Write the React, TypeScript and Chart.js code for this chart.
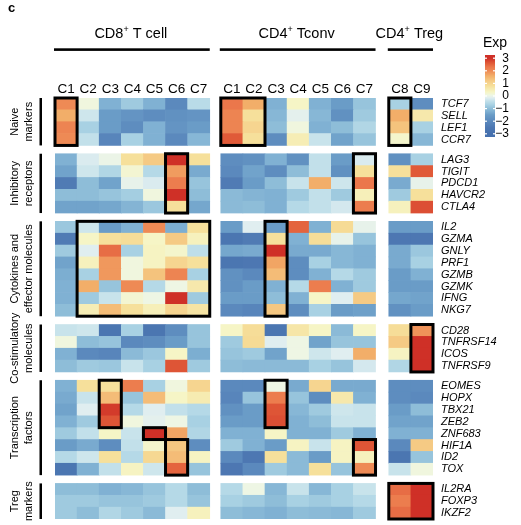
import React, { useEffect, useRef } from "react";
import { Chart, registerables } from "chart.js";

Chart.register(...registerables);

const FONT = '"Liberation Sans", Arial, Helvetica, sans-serif';

// ---- categories ----
const cd8Clusters = ["C1", "C2", "C3", "C4", "C5", "C6", "C7"];
const cd4Clusters = ["C1", "C2", "C3", "C4", "C5", "C6", "C7"];
const tregClusters = ["C8", "C9"];
const cd8DotColors = ["#78c6d6", "#f2b8bd", "#1e9a3c", "#4584b9", "#a0542c", "#d93131", "#e2c97a"];
const cd4DotColors = ["#a6c8de", "#c27fbc", "#ee7c30", "#b89e7b", "#c2a9d2", "#96c96e", "#5fa197"];
const tregDotColors = ["#e02b87", "#7b52a1"];
const panelNames = ["CD8", "CD4", "CD4"];
const panelSuffixes = [" T cell", " Tconv", " Treg"];

const groupLabels = [
  ["Naive", "markers"],
  ["Inhibitory", "receptors"],
  ["Cytokines and", "effector molecules"],
  ["Co-stimulatory", "molecules"],
  ["Transcription", "factors"],
  ["Treg", "markers"],
];

const naiveGenes = ["TCF7", "SELL", "LEF1", "CCR7"];
const inhibitoryGenes = ["LAG3", "TIGIT", "PDCD1", "HAVCR2", "CTLA4"];
const cytokineGenes = ["IL2", "GZMA", "GNLY", "PRF1", "GZMB", "GZMK", "IFNG", "NKG7"];
const costimGenes = ["CD28", "TNFRSF14", "ICOS", "TNFRSF9"];
const tfGenes = ["EOMES", "HOPX", "TBX21", "ZEB2", "ZNF683", "HIF1A", "ID2", "TOX"];
const tregGenes = ["IL2RA", "FOXP3", "IKZF2"];

// ---- values (columns: CD8 C1-C7, CD4 C1-C7, Treg C8-C9) ----
const naiveExp = [
  [2.0, 0.1, -1.2, -0.8, -1.2, -2.0, -0.5, 2.3, 1.6, -1.2, 0.3, -1.2, -1.5, -0.9, -0.7, -1.9],
  [1.6, -0.3, -1.5, -1.7, -1.9, -1.8, -1.7, 2.1, 0.8, -1.1, -0.1, -1.1, -1.8, -0.8, 1.6, 0.6],
  [2.1, -0.7, -1.5, -1.9, -1.2, -1.7, -1.5, 2.1, 1.0, -1.0, 0.1, -1.2, -1.0, -0.6, 1.3, -0.7],
  [2.0, -0.4, -2.1, -0.7, -1.2, -2.0, -1.1, 2.6, 0.8, -1.9, 0.5, -0.35, -1.4, -0.9, 0.25, -1.1],
];
const inhibitoryExp = [
  [-1.2, -0.2, 0.0, 0.8, 1.2, 3.0, 0.8, -1.9, -1.8, -1.2, -1.8, -0.4, -1.5, -0.2, -1.8, -0.7],
  [-1.4, -0.3, -0.6, 0.2, -0.55, 1.8, -1.3, -2.0, -1.4, -1.9, -1.0, -0.4, -1.8, 0.8, 0.8, 2.6],
  [-2.4, -1.0, -1.4, -0.05, -0.2, 2.2, -0.9, -2.4, -1.5, -1.0, -0.35, 1.6, -0.3, 2.3, -1.3, -0.05],
  [-1.0, -1.0, -0.9, -0.75, 0.1, 3.0, -1.0, -1.05, -1.15, -1.2, -0.8, -0.4, -0.8, 0.45, -0.8, 0.8],
  [-1.4, -1.4, -1.35, -1.15, -0.85, 0.8, -1.35, -1.05, -1.0, -1.2, -0.55, -0.4, -0.25, 2.2, 0.4, 2.7],
];
const cytokineExp = [
  [-0.85, -0.3, -1.5, -1.2, 2.0, -1.25, 0.8, -1.5, -0.15, -1.5, 2.5, -1.2, 0.9, -0.05, -1.5, -1.5],
  [-2.4, 0.3, 0.8, 0.85, 0.3, 1.2, 0.4, -2.6, -2.4, 0.8, -1.2, 0.85, -0.05, -0.9, -2.5, -2.5],
  [-0.8, -0.15, 2.4, -0.7, 0.35, 0.25, -0.45, -1.35, -1.3, 3.0, -1.3, -1.3, -1.1, -1.2, -1.3, -0.85],
  [-1.4, 0.4, 1.85, 0.1, 0.35, 1.0, 0.8, -2.6, -2.5, 1.7, -1.9, -0.7, -1.1, -1.2, -1.3, -0.7],
  [-1.25, -0.7, 1.85, 0.1, 1.3, 2.1, -0.7, -1.8, -2.0, 1.4, -1.9, -1.2, -0.55, -0.8, -1.5, -1.2],
  [-1.2, 1.6, -0.9, 2.0, -0.55, 0.05, 0.6, -1.8, -1.5, -1.2, -0.55, 2.2, -1.2, -0.8, -1.5, -1.5],
  [-1.2, -0.8, -0.35, 0.2, 0.05, 3.0, -0.8, -1.5, -1.5, -1.0, -1.2, 0.3, -0.15, 1.2, -1.35, -1.4],
  [-1.0, 0.5, 1.4, 0.8, 0.45, 1.0, 0.7, -2.0, -2.1, 1.25, -1.9, -0.7, -1.5, -1.45, -1.8, -1.5],
];
const costimExp = [
  [-0.35, -0.3, -2.6, -0.7, -2.6, -1.9, -0.9, 0.3, 0.85, -2.6, 0.65, 0.3, -1.05, 0.3, 0.85, 1.9],
  [0.1, -1.0, -0.9, -2.0, -1.9, -1.5, -0.9, -0.8, 0.9, -0.15, 0.05, -1.4, -0.9, -0.9, 1.2, 3.0],
  [-1.2, -2.0, -2.1, -1.05, -0.85, 0.3, -1.25, -0.9, -0.8, -1.4, 0.05, -0.3, -0.15, 1.6, 0.35, 3.0],
  [-1.0, -0.8, -0.85, -0.35, -0.7, 2.65, -0.8, -1.0, -1.05, -1.05, -1.05, -0.7, -0.9, -0.25, -0.6, 3.0],
];
const tfExp = [
  [-1.2, 0.8, 0.8, 2.2, -0.7, 0.1, 1.0, -2.0, -2.0, 0.05, -1.3, 1.0, -1.3, -1.3, -1.9, -1.9],
  [-1.3, -0.35, 1.4, -0.9, 1.4, 0.3, 0.55, -2.1, -0.9, 2.2, -0.9, -1.9, 0.6, -1.2, -1.9, -2.0],
  [-1.4, -0.15, 2.9, -0.55, -0.15, -0.4, -0.55, -1.8, -1.5, 2.65, -1.1, -0.8, -0.3, -0.35, -1.5, -1.0],
  [-1.2, -0.8, 2.65, 0.1, -0.1, 0.05, -0.7, -1.5, -1.5, 2.7, -1.2, -1.0, -0.35, -0.35, -1.4, -1.4],
  [-0.8, -0.4, 0.3, -0.35, 3.0, 1.7, -0.6, -1.2, -1.2, 0.3, -1.2, -1.2, -0.8, -1.2, -1.2, -1.2],
  [-1.5, -1.3, -1.9, -0.4, 0.25, 1.25, -1.9, -0.8, -1.2, -1.5, 0.35, -0.35, 0.35, 2.65, -2.0, 1.2],
  [-0.55, -0.3, 0.8, -0.55, 0.95, 1.4, 0.35, -2.0, -2.5, 0.8, -1.05, -1.5, 0.35, 0.4, -2.6, -0.9],
  [-2.6, -1.2, -0.4, 0.35, -0.3, 2.5, -0.9, -2.5, -2.0, -0.8, -1.05, 0.8, -0.9, 2.0, -0.35, 0.1],
];
const tregMarkerExp = [
  [-1.0, -1.0, -1.2, -1.1, -0.9, -0.55, -1.0, -0.55, 0.05, -1.1, -0.35, -1.1, -0.7, -0.35, 2.4, 3.0],
  [-0.8, -0.8, -0.9, -0.9, -0.8, -0.55, -0.9, -0.7, -0.8, -1.0, -0.7, -0.8, -0.7, -0.55, 2.2, 3.0],
  [-0.8, -1.0, -0.6, -0.8, -1.05, -0.15, 0.4, -1.0, -1.1, -1.2, -1.0, -1.05, -1.1, -0.8, 2.4, 3.0],
];

// highlighted blocks: [group, firstCol, lastCol, firstRow, lastRow]
const highlightBoxes = [
  [0, 0, 0, 0, 3], [0, 7, 8, 0, 3], [0, 14, 14, 0, 3],
  [1, 5, 5, 0, 4], [1, 13, 13, 0, 4],
  [2, 1, 6, 0, 7], [2, 9, 9, 0, 7],
  [3, 15, 15, 0, 3],
  [4, 2, 2, 0, 3], [4, 4, 4, 4, 4], [4, 5, 5, 5, 7], [4, 9, 9, 0, 3], [4, 13, 13, 5, 7],
  [5, 14, 15, 0, 2],
];

const legendTicks = [3, 2, 1, 0, -1, -2, -3];

// ---- colour scale ----
const colorStops: [number, string][] = [
  [-3, "#4570ae"], [-2.5, "#4d77b2"], [-2, "#5b89bd"], [-1.5, "#6a9cc7"], [-1.2, "#80b1d3"],
  [-1, "#8ebdd8"], [-0.7, "#a8d1e3"], [-0.4, "#c2e0ea"], [-0.15, "#e0eef0"], [0.05, "#eef6e4"],
  [0.3, "#f6f5c6"], [0.8, "#f6e09b"], [1.2, "#f5ca84"], [1.6, "#f2ae69"], [2.0, "#ee8a55"],
  [2.3, "#eb774b"], [2.6, "#e05a38"], [3, "#cf3027"],
];
function hexRgb(h: string) {
  return [parseInt(h.slice(1, 3), 16), parseInt(h.slice(3, 5), 16), parseInt(h.slice(5, 7), 16)];
}
function expColor(v: number) {
  const t = Math.max(-3, Math.min(3, v));
  for (let i = 0; i < colorStops.length - 1; i++) {
    const [a, ca] = colorStops[i];
    const [b, cb] = colorStops[i + 1];
    if (t <= b) {
      const f = (t - a) / (b - a);
      const A = hexRgb(ca), B = hexRgb(cb);
      const c = A.map((x, k) => Math.round(x + (B[k] - x) * f));
      return `rgb(${c[0]},${c[1]},${c[2]})`;
    }
  }
  return colorStops[colorStops.length - 1][1];
}

// ---- layout in scale units ----
const groups = [
  { genes: naiveGenes, exp: naiveExp },
  { genes: inhibitoryGenes, exp: inhibitoryExp },
  { genes: cytokineGenes, exp: cytokineExp },
  { genes: costimGenes, exp: costimExp },
  { genes: tfGenes, exp: tfExp },
  { genes: tregGenes, exp: tregMarkerExp },
];
const ROW_GAP = 0.7;
const groupTops: number[] = [];
let cursor = 0;
groups.forEach((g) => {
  groupTops.push(cursor);
  cursor += g.genes.length + ROW_GAP;
});
const Y_MAX = cursor - ROW_GAP;

const PANEL_OFFSETS = [0, 7.5, 15.1];
const panelClusters = [cd8Clusters, cd4Clusters, tregClusters];
const panelDotColors = [cd8DotColors, cd4DotColors, tregDotColors];
const columns: { label: string; color: string; x: number }[] = [];
panelClusters.forEach((cl, p) =>
  cl.forEach((lab, i) => columns.push({ label: lab, color: panelDotColors[p][i], x: PANEL_OFFSETS[p] + i + 0.5 }))
);
const X_MAX = PANEL_OFFSETS[2] + tregClusters.length;

const cells: { x: number; y: [number, number]; v: number }[] = [];
groups.forEach((g, gi) => {
  g.exp.forEach((row, r) => {
    row.forEach((v, j) => {
      cells.push({ x: columns[j].x, y: [groupTops[gi] + r, groupTops[gi] + r + 1], v });
    });
  });
});

const DOT_ROW = -2.5;

const annotPlugin = {
  id: "annot",
  afterDraw(chart: any) {
    const { ctx, chartArea } = chart;
    const xs = chart.scales.x;
    const ys = chart.scales.y;
    const top = chartArea.top;
    ctx.save();
    ctx.fillStyle = "#000";

    // panel heading "c"
    ctx.font = `bold 13px ${FONT}`;
    ctx.textAlign = "left";
    ctx.textBaseline = "alphabetic";
    ctx.fillText("c", 8, 12);

    // panel titles and rules
    panelClusters.forEach((cl, p) => {
      const x0 = xs.getPixelForValue(PANEL_OFFSETS[p]);
      const x1 = xs.getPixelForValue(PANEL_OFFSETS[p] + cl.length);
      ctx.fillStyle = "#000";
      ctx.fillRect(x0 - 1, top - 49.7, x1 - x0 + 1, 2.6);
      const cx = (x0 + x1) / 2 - 1.5;
      const base = top - 60.5;
      ctx.font = `14.5px ${FONT}`;
      const w1 = ctx.measureText(panelNames[p]).width;
      const w3 = ctx.measureText(panelSuffixes[p]).width;
      ctx.font = `9px ${FONT}`;
      const w2 = ctx.measureText("+").width;
      let x = cx - (w1 + w2 + w3) / 2;
      ctx.textAlign = "left";
      ctx.font = `14.5px ${FONT}`;
      ctx.fillText(panelNames[p], x, base);
      x += w1;
      ctx.font = `9px ${FONT}`;
      ctx.fillText("+", x, base - 5.5);
      x += w2;
      ctx.font = `14.5px ${FONT}`;
      ctx.fillText(panelSuffixes[p], x, base);
    });

    // column labels
    ctx.font = `13.5px ${FONT}`;
    ctx.textAlign = "center";
    columns.forEach((c) => ctx.fillText(c.label, xs.getPixelForValue(c.x), top - 5));

    // row group bars and labels
    groups.forEach((g, gi) => {
      const t = ys.getPixelForValue(groupTops[gi]);
      const b = ys.getPixelForValue(groupTops[gi] + g.genes.length);
      ctx.fillStyle = "#000";
      ctx.fillRect(39.5, t, 2.5, b - t);
      ctx.save();
      ctx.translate(0, (t + b) / 2);
      ctx.rotate(-Math.PI / 2);
      ctx.font = `11px ${FONT}`;
      ctx.textAlign = "center";
      ctx.textBaseline = "alphabetic";
      ctx.fillText(groupLabels[gi][0], 0, 18);
      ctx.fillText(groupLabels[gi][1], 0, 31.5);
      ctx.restore();
      // gene labels
      ctx.font = `italic 11px ${FONT}`;
      ctx.textAlign = "left";
      ctx.textBaseline = "middle";
      g.genes.forEach((gene, r) => {
        ctx.fillText(gene, chartArea.right + 8, ys.getPixelForValue(groupTops[gi] + r + 0.5));
      });
    });

    // highlight boxes
    ctx.strokeStyle = "#000";
    ctx.lineWidth = 3;
    highlightBoxes.forEach(([g, c0, c1, r0, r1]) => {
      const l = xs.getPixelForValue(columns[c0].x - 0.5);
      const r = xs.getPixelForValue(columns[c1].x + 0.5);
      const t = ys.getPixelForValue(groupTops[g] + r0);
      const b = ys.getPixelForValue(groupTops[g] + r1 + 1);
      ctx.strokeRect(l, t, r - l, b - t);
    });

    // legend
    ctx.fillStyle = "#000";
    ctx.font = `14px ${FONT}`;
    ctx.textAlign = "left";
    ctx.textBaseline = "alphabetic";
    ctx.fillText("Exp", 483, 47);
    const lgX = 485, lgW = 10, lgTop = 55, lgBot = 137, zeroY = 96, unit = 12.6;
    for (let py = lgTop; py < lgBot; py++) {
      ctx.fillStyle = expColor((zeroY - (py + 0.5)) / unit);
      ctx.fillRect(lgX, py, lgW, 1);
    }
    ctx.font = `12px ${FONT}`;
    ctx.textAlign = "right";
    ctx.textBaseline = "middle";
    legendTicks.forEach((tk) => {
      const ty = zeroY - tk * unit;
      ctx.fillStyle = "#fff";
      ctx.fillRect(lgX, ty - 0.6, 2, 1.2);
      ctx.fillRect(lgX + lgW - 2, ty - 0.6, 2, 1.2);
      ctx.fillStyle = "#000";
      ctx.fillText(tk < 0 ? "\u2212" + Math.abs(tk) : String(tk), 509, ty);
    });
    ctx.restore();
  },
};

export default function App() {
  const ref = useRef<HTMLCanvasElement>(null);
  useEffect(() => {
    const canvas = ref.current;
    if (!canvas) return;
    const chart = new Chart(canvas, {
      type: "bar",
      data: {
        datasets: [
          {
            type: "bar",
            data: cells.map((c) => ({ x: c.x, y: c.y })) as any,
            backgroundColor: cells.map((c) => expColor(c.v)),
            borderWidth: 0,
            barPercentage: 1,
            categoryPercentage: 1,
            grouped: false,
          } as any,
          {
            type: "scatter",
            data: columns.map((c) => ({ x: c.x, y: DOT_ROW })),
            backgroundColor: columns.map((c) => c.color),
            pointRadius: 5.3,
            pointHoverRadius: 5.3,
            borderWidth: 0,
            clip: false,
          } as any,
        ],
      },
      options: {
        animation: false,
        responsive: false,
        devicePixelRatio: 1,
        events: [],
        layout: { padding: { left: 55, right: 521 - 433, top: 98, bottom: 6 } },
        plugins: { legend: { display: false }, tooltip: { enabled: false } },
        scales: {
          x: {
            type: "linear",
            min: 0,
            max: X_MAX,
            display: false,
            afterBuildTicks: (axis: any) => {
              axis.ticks = [];
            },
          },
          y: { type: "linear", min: 0, max: Y_MAX, reverse: true, display: false },
        },
      } as any,
      plugins: [annotPlugin],
    });
    return () => chart.destroy();
  }, []);
  return (
    <div style={{ position: "absolute", left: 0, top: 0, width: 521, height: 525, background: "#fff" }}>
      <canvas ref={ref} width={521} height={525} style={{ display: "block", width: 521, height: 525 }} />
    </div>
  );
}
